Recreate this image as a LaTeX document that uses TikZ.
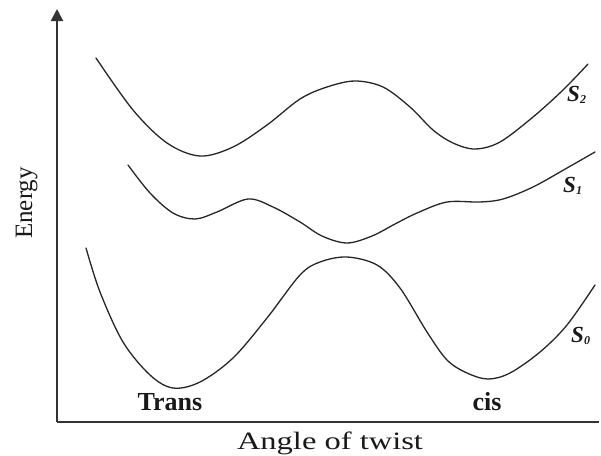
\documentclass[tikz,border=0pt]{standalone}
\usepackage{fontspec}
\setmainfont{Liberation Serif}
\usetikzlibrary{arrows.meta}
\newcommand{\statelab}[1]{{\bfseries\itshape S}\raisebox{-0.25ex}{\fontsize{12}{12}\selectfont\bfseries\itshape #1}}
\begin{document}
\begin{tikzpicture}[x=1pt,y=-1pt,
  curve/.style={line width=1.3pt, color=black!85, line cap=round, line join=round},
  axisline/.style={line width=2pt, color=black!80},
  conf/.style={font=\fontsize{26}{30}\selectfont\bfseries, inner sep=0pt, text=black!90},
  axlab/.style={font=\fontsize{25}{30}\selectfont, inner sep=0pt, text=black!90},
  slab/.style={font=\fontsize{23}{26}\selectfont, inner sep=0pt, anchor=base west, text=black!90}]
\useasboundingbox (0,0) rectangle (601,455);
% axes
\coordinate (O) at (57,422);
\coordinate (Ytop) at (57,9);
\coordinate (Xend) at (599,422);
\draw[axisline,-{Triangle[length=12pt,width=12pt]}] (O) -- (Ytop);
\draw[axisline] (O) -- (Xend);
% S2
\draw[curve] plot[smooth, tension=0.55] coordinates {
 (96,58) (133,110) (167,143) (200,156) (233,147) (267,125) (300,99)
 (327,87) (355,81) (383,87) (410,107) (433,130) (453,143) (475,149)
 (500,142) (533,117) (563,90) (588,64)};
% S1
\draw[curve] plot[smooth, tension=0.55] coordinates {
 (128,165) (150,193) (173,213) (195,219) (217,212) (248,199) (273,207)
 (300,222) (322,236) (347,243) (372,236) (395,224) (417,213) (447,202)
 (480,202) (503,199) (533,187) (567,168) (595,152)};
% S0
\draw[curve] plot[smooth, tension=0.55] coordinates {
 (86,248) (100,292) (123,342) (150,375) (173,388) (200,382) (233,358)
 (267,318) (300,275) (320,262) (347,257) (377,265) (400,288) (427,332)
 (447,360) (467,373) (488,379) (510,373) (540,352) (567,325) (595,285)};
% labels
\node[axlab, rotate=90, anchor=base] (energy) at (32,203) {Energy};
\node[axlab, anchor=base] (angle) at (330,449) {\scalebox{1.3}[1]{Angle of twist}};
\node[conf, anchor=base] (trans) at (170,410) {Trans};
\node[conf, anchor=base] (cis) at (487,410) {cis};
\node[slab] (s2) at (567,101) {\statelab{2}};
\node[slab] (s1) at (563,192) {\statelab{1}};
\node[slab] (s0) at (571,342) {\statelab{0}};
\end{tikzpicture}
\end{document}
